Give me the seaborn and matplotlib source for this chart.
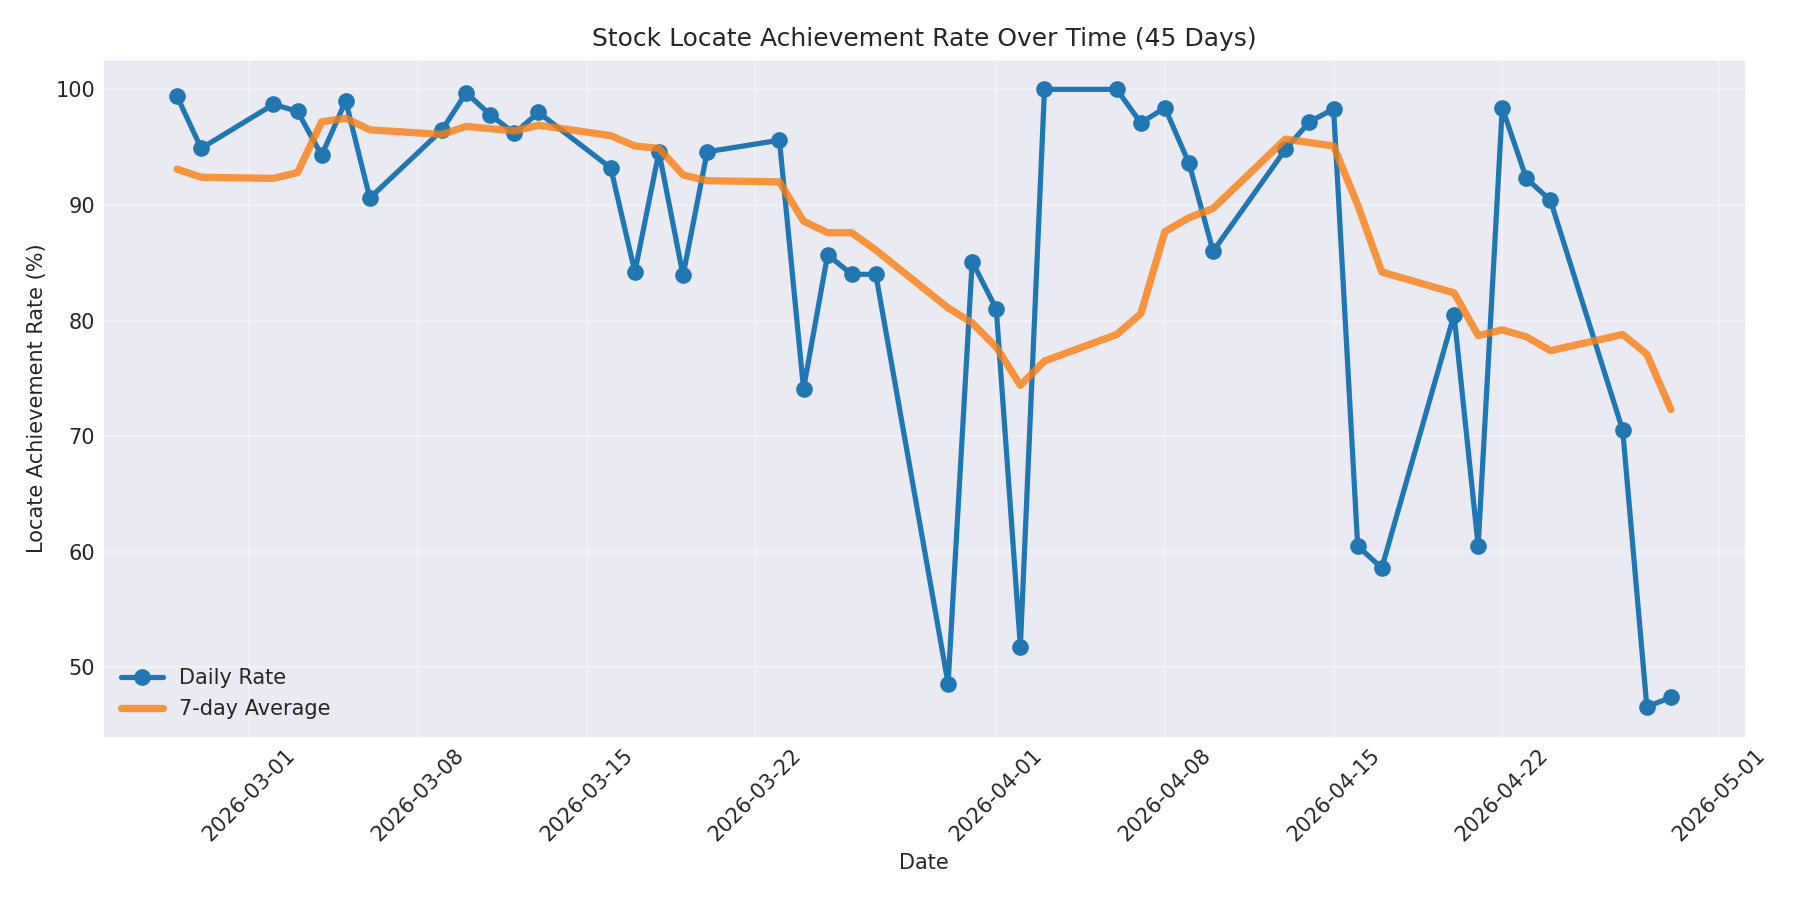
import pandas as pd
import matplotlib
matplotlib.use("Agg")
import matplotlib.pyplot as plt
import seaborn as sns

# business days shown on the chart (45 days)
dates = pd.bdate_range("2026-02-26", "2026-04-29")

daily_rate = [99.4, 94.9, 98.7, 98.1, 94.3, 99.0, 90.6,
              96.5, 99.7, 97.8, 96.2, 98.0,
              93.2, 84.2, 94.6, 83.9, 94.6,
              95.6, 74.1, 85.7, 84.0, 84.0,
              48.6, 85.1, 81.0, 51.8, 100.0,
              100.0, 97.1, 98.4, 93.6, 86.0,
              94.8, 97.2, 98.3, 60.5, 58.6,
              80.5, 60.5, 98.4, 92.3, 90.4,
              70.5, 46.6, 47.4]

avg_7day = [93.1, 92.4, 92.3, 92.8, 97.2, 97.5, 96.5,
            96.1, 96.8, 96.6, 96.4, 96.9,
            96.0, 95.1, 94.9, 92.6, 92.1,
            92.0, 88.6, 87.6, 87.6, 86.1,
            81.1, 79.8, 77.7, 74.4, 76.5,
            78.8, 80.6, 87.7, 88.9, 89.7,
            95.7, 95.4, 95.1, 90.0, 84.2,
            82.4, 78.7, 79.2, 78.6, 77.4,
            78.8, 77.1, 72.3]

df = pd.DataFrame({"date": dates, "rate": daily_rate, "avg": avg_7day})

sns.set_theme(style="darkgrid", rc={"xtick.major.size": 0, "ytick.major.size": 0,
                                     "xtick.major.pad": 3.5, "ytick.major.pad": 3.5})
fig, ax = plt.subplots(figsize=(12, 6), dpi=150)

sns.lineplot(data=df, x="date", y="rate", ax=ax, color="#1f77b4", linewidth=2.5,
             marker="o", markersize=8, markeredgewidth=0, label="Daily Rate")
sns.lineplot(data=df, x="date", y="avg", ax=ax, color="#ff7f0e", linewidth=3.5,
             alpha=0.8, label="7-day Average")

ax.set_title("Stock Locate Achievement Rate Over Time (45 Days)", fontsize=12)
ax.set_xlabel("Date", fontsize=10)
ax.set_ylabel("Locate Achievement Rate (%)", fontsize=10)
ax.tick_params(axis="both", labelsize=10)
plt.setp(ax.get_xticklabels(), rotation=45)
ax.grid(True, alpha=0.3)
ax.legend(loc="lower left", fontsize=10, frameon=False)

plt.tight_layout()
plt.savefig("out.png")
